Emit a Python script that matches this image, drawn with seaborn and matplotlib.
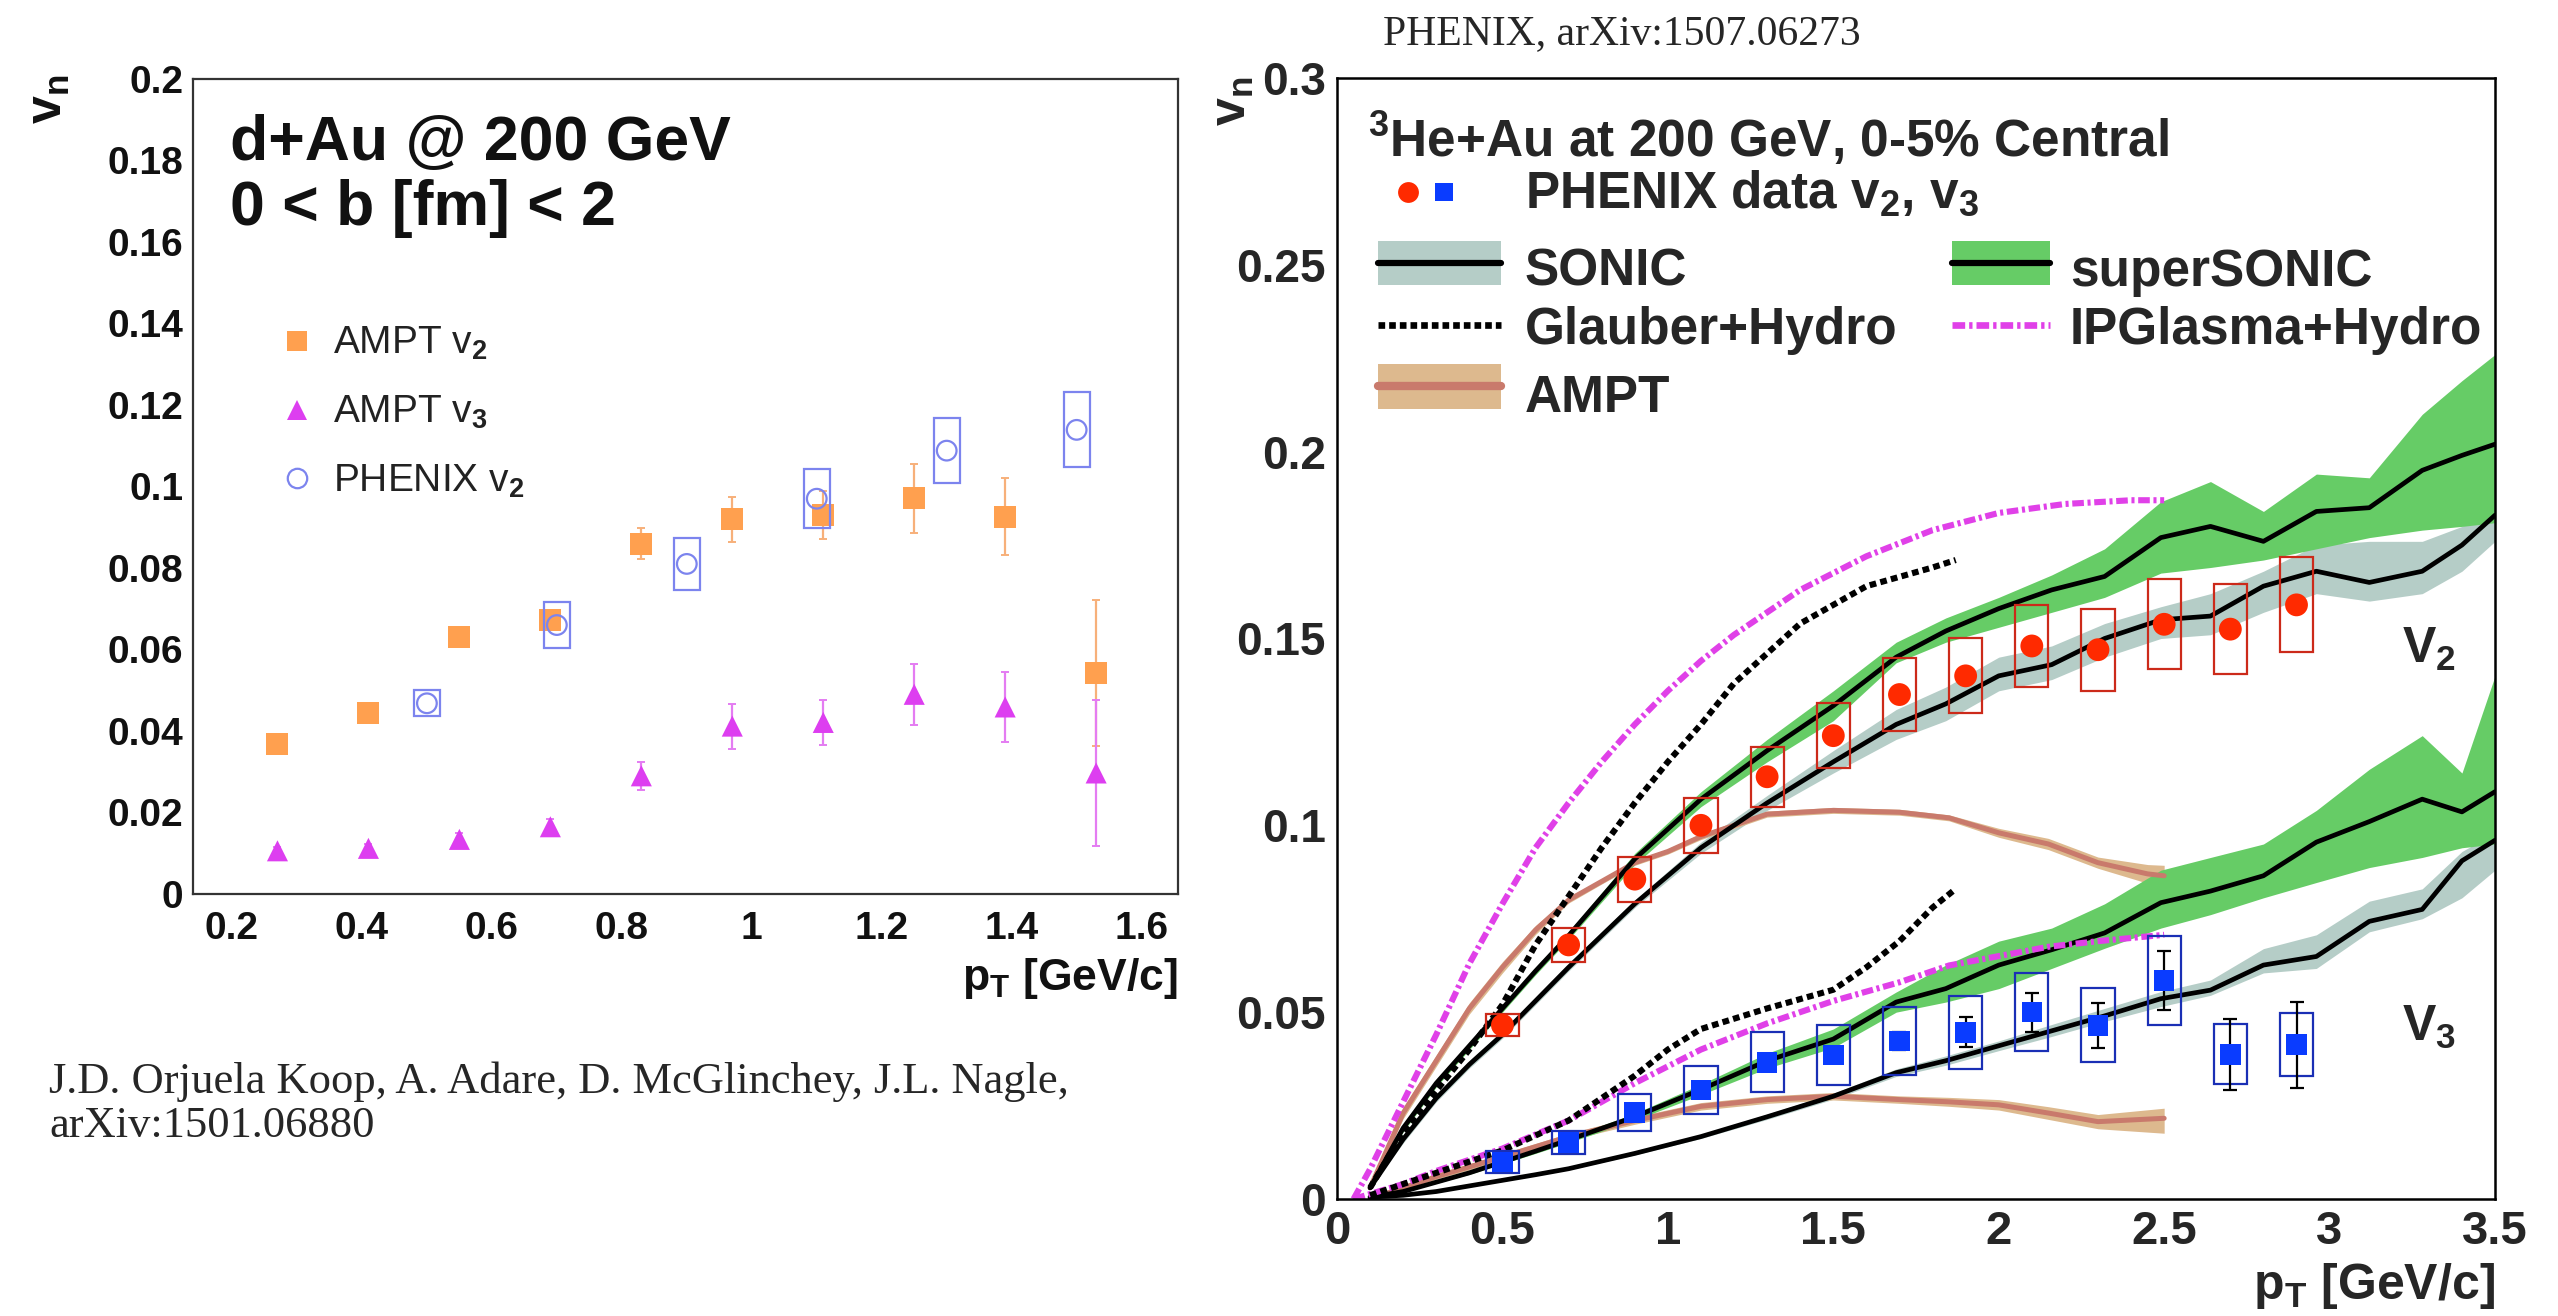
import matplotlib
matplotlib.use("Agg")
import matplotlib.pyplot as plt
from matplotlib.patches import Rectangle
from matplotlib.lines import Line2D
from matplotlib.ticker import MultipleLocator, FuncFormatter
import seaborn as sns

# ---------------- d+Au @ 200 GeV : AMPT vs PHENIX ----------------
ampt_pt = [0.27, 0.41, 0.55, 0.69, 0.83, 0.97, 1.11, 1.25, 1.39, 1.53]
ampt_v2 = [0.0367, 0.0445, 0.063, 0.0672, 0.086, 0.092, 0.093, 0.0971, 0.0926, 0.0542]
ampt_v2_err = [0.0015, 0.0015, 0.002, 0.0025, 0.0038, 0.0055, 0.0058, 0.0085, 0.0095, 0.018]
ampt_v3 = [0.0106, 0.0112, 0.0134, 0.0165, 0.029, 0.0412, 0.0421, 0.049, 0.0459, 0.0297]
ampt_v3_err = [0.001, 0.001, 0.0015, 0.002, 0.0035, 0.0055, 0.0055, 0.0075, 0.0085, 0.018]

dau_pt = [0.5, 0.7, 0.9, 1.1, 1.3, 1.5]
dau_v2 = [0.0468, 0.066, 0.081, 0.097, 0.1088, 0.1139]
dau_v2_sys = [0.0032, 0.0056, 0.0064, 0.0072, 0.008, 0.0092]

# ---------------- 3He+Au @ 200 GeV : PHENIX data ----------------
he_pt = [0.5, 0.7, 0.9, 1.1, 1.3, 1.5, 1.7, 1.9, 2.1, 2.3, 2.5, 2.7, 2.9]
he_v2 = [0.0465, 0.068, 0.0856, 0.100, 0.113, 0.124, 0.135, 0.140, 0.148, 0.147, 0.1538, 0.1525, 0.159]
he_v2_stat = [0.0006, 0.0007, 0.0008, 0.0009, 0.001, 0.0011, 0.0012, 0.0013, 0.0015, 0.0017, 0.0019, 0.0021, 0.0023]
he_v2_sys = [0.003, 0.0046, 0.006, 0.0073, 0.008, 0.0087, 0.0098, 0.010, 0.011, 0.011, 0.012, 0.012, 0.0127]
he_v3 = [0.0099, 0.0151, 0.0232, 0.0292, 0.0366, 0.0385, 0.0423, 0.0446, 0.050, 0.0465, 0.0585, 0.0387, 0.0413]
he_v3_stat = [0.001, 0.001, 0.0012, 0.0015, 0.002, 0.002, 0.0025, 0.004, 0.0052, 0.006, 0.008, 0.0095, 0.0115]
he_v3_sys = [0.003, 0.003, 0.005, 0.0065, 0.008, 0.008, 0.009, 0.0098, 0.0105, 0.0099, 0.012, 0.008, 0.0085]

# ---------------- hydro model curves (SONIC / superSONIC) ----------------
hydro_pt = [0.1, 0.2, 0.3, 0.4, 0.5, 0.6, 0.7, 0.9, 1.1, 1.3, 1.5, 1.69, 1.84, 2.0,
            2.16, 2.32, 2.49, 2.64, 2.8, 2.96, 3.12, 3.28, 3.4, 3.5]
sonic_v2 = [0.003, 0.016, 0.027, 0.036, 0.044, 0.053, 0.062, 0.079, 0.094, 0.106, 0.117, 0.127,
            0.1325, 0.140, 0.143, 0.150, 0.155, 0.156, 0.164, 0.168, 0.165, 0.168, 0.175, 0.183]
sonic_v2_lo = [0.003, 0.015, 0.026, 0.035, 0.043, 0.052, 0.061, 0.078, 0.0925, 0.104, 0.114, 0.123,
               0.128, 0.136, 0.139, 0.145, 0.150, 0.151, 0.157, 0.162, 0.160, 0.162, 0.168, 0.176]
sonic_v2_hi = [0.003, 0.017, 0.028, 0.037, 0.045, 0.054, 0.063, 0.080, 0.0955, 0.108, 0.120, 0.131,
               0.137, 0.145, 0.148, 0.154, 0.1585, 0.162, 0.168, 0.175, 0.176, 0.176, 0.180, 0.186]
super_v2 = [0.003, 0.019, 0.031, 0.041, 0.051, 0.061, 0.0705, 0.091, 0.107, 0.120, 0.132, 0.145,
            0.152, 0.158, 0.163, 0.1666, 0.177, 0.180, 0.176, 0.184, 0.185, 0.195, 0.199, 0.202]
super_v2_lo = [0.003, 0.018, 0.030, 0.040, 0.050, 0.060, 0.0695, 0.0895, 0.105, 0.117, 0.128, 0.1435,
               0.149, 0.153, 0.157, 0.161, 0.1675, 0.169, 0.171, 0.174, 0.177, 0.179, 0.180, 0.181]
super_v2_hi = [0.003, 0.020, 0.032, 0.042, 0.052, 0.062, 0.0715, 0.0925, 0.109, 0.123, 0.136, 0.149,
               0.1555, 0.161, 0.167, 0.174, 0.1866, 0.192, 0.184, 0.194, 0.193, 0.210, 0.219, 0.226]
sonic_v3 = [0.0005, 0.001, 0.002, 0.0035, 0.005, 0.0065, 0.0081, 0.0122, 0.0167, 0.022, 0.0275, 0.0338,
            0.037, 0.041, 0.045, 0.049, 0.0536, 0.0559, 0.0626, 0.0649, 0.0743, 0.0775, 0.0905, 0.096]
sonic_v3_lo = [0.0005, 0.001, 0.002, 0.0033, 0.0047, 0.0062, 0.0078, 0.0118, 0.0162, 0.0213, 0.0267, 0.0328,
               0.0358, 0.0397, 0.0435, 0.0475, 0.0515, 0.0545, 0.0605, 0.0617, 0.0715, 0.075, 0.0806, 0.088]
sonic_v3_hi = [0.0005, 0.0012, 0.0022, 0.0037, 0.0053, 0.0068, 0.0084, 0.0126, 0.0172, 0.0227, 0.0283, 0.0348,
               0.0383, 0.0423, 0.0467, 0.051, 0.0555, 0.0586, 0.067, 0.0707, 0.0797, 0.083, 0.093, 0.098]
super_v3 = [0.0005, 0.002, 0.0045, 0.007, 0.0099, 0.0128, 0.0158, 0.022, 0.0293, 0.037, 0.0428, 0.0527,
            0.0563, 0.0626, 0.0667, 0.0712, 0.0793, 0.0824, 0.0865, 0.0955, 0.101, 0.107, 0.1036, 0.109]
super_v3_lo = [0.0005, 0.0018, 0.0042, 0.0066, 0.0094, 0.0122, 0.0151, 0.0211, 0.0279, 0.035, 0.0405, 0.050,
               0.0527, 0.0563, 0.0617, 0.0671, 0.0725, 0.0761, 0.0806, 0.0847, 0.0887, 0.0914, 0.094, 0.095]
super_v3_hi = [0.0005, 0.0022, 0.0048, 0.0074, 0.0104, 0.0134, 0.0165, 0.0229, 0.0307, 0.039, 0.0455, 0.0554,
               0.0626, 0.069, 0.0725, 0.079, 0.088, 0.0914, 0.095, 0.104, 0.115, 0.124, 0.114, 0.140]

# ---------------- Glauber+Hydro ----------------
glauber_v2_pt = [0.1, 0.2, 0.3, 0.4, 0.5, 0.6, 0.7, 0.8, 0.9, 1.0, 1.1, 1.2, 1.4, 1.6, 1.8, 1.87]
glauber_v2 = [0.003, 0.018, 0.029, 0.040, 0.052, 0.068, 0.081, 0.094, 0.106, 0.117, 0.127, 0.138,
              0.154, 0.164, 0.169, 0.171]
glauber_v3_pt = [0.1, 0.2, 0.3, 0.4, 0.5, 0.6, 0.7, 0.8, 0.9, 1.0, 1.1, 1.3, 1.5, 1.6, 1.7, 1.8, 1.87]
glauber_v3 = [0.001, 0.004, 0.007, 0.010, 0.013, 0.017, 0.021, 0.027, 0.033, 0.040, 0.0455, 0.051,
              0.056, 0.062, 0.069, 0.078, 0.083]

# ---------------- IPGlasma+Hydro ----------------
ipg_v2_pt = [0.05, 0.1, 0.2, 0.3, 0.4, 0.5, 0.6, 0.7, 0.8, 0.9, 1.0, 1.1, 1.2, 1.4, 1.6, 1.8, 2.0,
             2.2, 2.4, 2.5]
ipg_v2 = [0.0, 0.008, 0.026, 0.044, 0.063, 0.079, 0.094, 0.106, 0.117, 0.127, 0.136, 0.144, 0.151,
          0.163, 0.172, 0.179, 0.1836, 0.186, 0.187, 0.187]
ipg_v3_pt = [0.05, 0.2, 0.3, 0.4, 0.5, 0.7, 0.9, 1.1, 1.3, 1.5, 1.7, 1.85, 2.0, 2.15, 2.3, 2.5]
ipg_v3 = [0.0, 0.004, 0.0075, 0.0105, 0.0135, 0.021, 0.031, 0.040, 0.047, 0.053, 0.058, 0.0625,
          0.065, 0.0675, 0.069, 0.0707]

# ---------------- AMPT (3He+Au) ----------------
amptc_v2_pt = [0.1, 0.2, 0.3, 0.4, 0.5, 0.6, 0.7, 0.8, 0.9, 1.0, 1.1, 1.2, 1.3, 1.5, 1.7, 1.85,
               2.0, 2.15, 2.3, 2.45, 2.5]
amptc_v2 = [0.003, 0.023, 0.037, 0.051, 0.062, 0.072, 0.080, 0.085, 0.090, 0.093, 0.097, 0.100,
            0.103, 0.104, 0.1035, 0.102, 0.098, 0.095, 0.090, 0.087, 0.0865]
amptc_v2_lo = [0.0025, 0.0215, 0.0355, 0.0495, 0.0605, 0.0708, 0.0792, 0.0843, 0.0893, 0.0923, 0.0962,
               0.0992, 0.1022, 0.1032, 0.1027, 0.1012, 0.0968, 0.0935, 0.0885, 0.0845, 0.0835]
amptc_v2_hi = [0.0035, 0.0245, 0.0385, 0.0525, 0.0635, 0.0732, 0.0808, 0.0857, 0.0907, 0.0937, 0.0978,
               0.1008, 0.1038, 0.1048, 0.1043, 0.1028, 0.0992, 0.0965, 0.0915, 0.0895, 0.0893]
amptc_v3_pt = [0.1, 0.2, 0.3, 0.4, 0.5, 0.7, 0.9, 1.1, 1.3, 1.5, 1.7, 1.85, 2.0, 2.15, 2.3, 2.5]
amptc_v3 = [0.0, 0.003, 0.006, 0.0086, 0.0113, 0.0167, 0.021, 0.0248, 0.0266, 0.0275, 0.0266,
            0.026, 0.0252, 0.023, 0.0207, 0.0216]
amptc_v3_lo = [0.0, 0.0025, 0.0053, 0.0078, 0.0105, 0.0158, 0.020, 0.0238, 0.0256, 0.0265, 0.0256,
               0.0248, 0.0238, 0.0213, 0.0188, 0.0176]
amptc_v3_hi = [0.0, 0.0035, 0.0067, 0.0094, 0.0121, 0.0176, 0.022, 0.0258, 0.0276, 0.0285, 0.0276,
               0.0272, 0.0266, 0.0247, 0.0226, 0.0243]

# ---------------- style ----------------
sns.set_style("white")
plt.rcParams["font.family"] = ["Liberation Sans", "DejaVu Sans"]
plt.rcParams["font.weight"] = "bold"
plt.rcParams["mathtext.fontset"] = "custom"
plt.rcParams["mathtext.rm"] = "Liberation Sans"
plt.rcParams["mathtext.it"] = "Liberation Sans:italic"
plt.rcParams["mathtext.bf"] = "Liberation Sans:bold"

C_ORANGE = "#ffa04f"
C_ORANGE_E = "#f7b07a"
C_MAG = "#dd3ef0"
C_MAG_E = "#e47cf2"
C_PERI = "#7c84ee"
C_RED = "#ff2a00"
C_RED_BOX = "#cc2a1a"
C_BLUE = "#0a3cff"
C_BLUE_BOX = "#1a2fb5"
C_SONIC = "#b5cdc7"
C_SUPER = "#66cc66"
C_AMPT_L = "#c97a6c"
C_AMPT_B = "#ddb98e"
C_IPG = "#e040e8"

DOTTED = (0, (1.1, 0.7))
DASHDOT = (0, (1.9, 0.6, 0.5, 0.6))

fig = plt.figure(figsize=(25.58, 13.16), dpi=100)
ax1 = fig.add_axes([0.07545, 0.32067, 0.38507, 0.61930])
ax2 = fig.add_axes([0.52268, 0.08891, 0.45270, 0.85182])

fmt = FuncFormatter(lambda v, p: "%g" % round(v, 4))


def sys_boxes(ax, x, y, sys, half_w, color, lw, z):
    for xi, yi, si in zip(x, y, sys):
        ax.add_patch(Rectangle((xi - half_w, yi - si), 2 * half_w, 2 * si, fill=False,
                               edgecolor=color, lw=lw, zorder=z))


def curve(ax, x, y, color, lw, z, ls="-"):
    sns.lineplot(x=x, y=y, ax=ax, color=color, linewidth=lw, linestyle=ls, estimator=None,
                 sort=False, legend=False, zorder=z, dash_capstyle="butt", solid_capstyle="round")


# ================= left panel =================
ax = ax1
ax.set_xlim(0.14, 1.656)
ax.set_ylim(0, 0.2)
ax.errorbar(ampt_pt, ampt_v2, yerr=ampt_v2_err, fmt="none", ecolor=C_ORANGE_E, elinewidth=1.6,
            capsize=3, capthick=1.4, zorder=3)
ax.errorbar(ampt_pt, ampt_v3, yerr=ampt_v3_err, fmt="none", ecolor=C_MAG_E, elinewidth=1.6,
            capsize=3, capthick=1.4, zorder=3)
sns.scatterplot(x=ampt_pt, y=ampt_v2, ax=ax, marker="s", s=250, color=C_ORANGE, edgecolor="none",
                legend=False, zorder=4)
sns.scatterplot(x=ampt_pt, y=ampt_v3, ax=ax, marker="^", s=230, color=C_MAG, edgecolor="none",
                legend=False, zorder=4)
sys_boxes(ax, dau_pt, dau_v2, dau_v2_sys, 0.02, C_PERI, 1.6, 5)
sns.scatterplot(x=dau_pt, y=dau_v2, ax=ax, marker="o", s=200, color=C_PERI, legend=False, zorder=6)
ax.collections[-1].set_facecolor("none")
ax.collections[-1].set_edgecolor(C_PERI)
ax.collections[-1].set_linewidth(1.6)

ax.xaxis.set_major_locator(MultipleLocator(0.2))
ax.xaxis.set_minor_locator(MultipleLocator(0.05))
ax.yaxis.set_major_locator(MultipleLocator(0.02))
ax.yaxis.set_minor_locator(MultipleLocator(0.005))
ax.xaxis.set_major_formatter(fmt)
ax.yaxis.set_major_formatter(fmt)
ax.tick_params(axis="both", which="both", direction="in", color="#333333", width=1.4,
               top=False, right=False, labelsize=28, labelcolor="#111111")
ax.tick_params(axis="y", which="major", length=21, pad=7)
ax.tick_params(axis="y", which="minor", length=11)
ax.tick_params(axis="x", which="major", length=17, pad=12)
ax.tick_params(axis="x", which="minor", length=8)
for s in ax.spines.values():
    s.set_linewidth(1.6)
    s.set_color("#333333")

ax.text(0.0376, 0.901, "d+Au @ 200 GeV", transform=ax.transAxes, fontsize=45, va="baseline",
        color="#111111")
ax.text(0.0376, 0.8203, "0 < b [fm] < 2", transform=ax.transAxes, fontsize=45, va="baseline",
        color="#111111")
ax.text(-0.146, 0.975, r"v$_{\mathbf{n}}$", transform=ax.transAxes, fontsize=36, rotation=90,
        ha="center", va="center", color="#111111")
ax.text(1.0, -0.104, r"p$_{\mathbf{T}}$ [GeV/c]", transform=ax.transAxes, fontsize=32,
        ha="right", va="center", color="#111111")

# legend keys of the left panel
leg_rows = [(0.678, 0.6624, "s", C_ORANGE, "AMPT v$_{2}$", 15),
            (0.594, 0.578, "^", C_MAG, "AMPT v$_{3}$", 15),
            (0.511, 0.494, "o", C_PERI, "PHENIX v$_{2}$", 14)]
for ym, yt, mk, col, lab, ms in leg_rows:
    face = "none" if mk == "o" else col
    ax.add_line(Line2D([0.106], [ym], transform=ax.transAxes, marker=mk, markersize=ms,
                       markerfacecolor=face, markeredgecolor=col,
                       markeredgewidth=1.6 if mk == "o" else 0, linestyle="none"))
    ax.text(0.142, yt, lab, transform=ax.transAxes, fontsize=28, fontweight="normal",
            va="baseline", color="#222222")

# ================= right panel =================
ax = ax2
ax.set_xlim(0, 3.5)
ax.set_ylim(0, 0.3)

# bands
ax.fill_between(hydro_pt, sonic_v2_lo, sonic_v2_hi, color=C_SONIC, lw=0, zorder=1)
ax.fill_between(hydro_pt, sonic_v3_lo, sonic_v3_hi, color=C_SONIC, lw=0, zorder=1)
ax.fill_between(hydro_pt, super_v2_lo, super_v2_hi, color=C_SUPER, lw=0, zorder=1.2)
ax.fill_between(hydro_pt, super_v3_lo, super_v3_hi, color=C_SUPER, lw=0, zorder=1.2)
ax.fill_between(amptc_v2_pt, amptc_v2_lo, amptc_v2_hi, color=C_AMPT_B, lw=0, zorder=1.1)
ax.fill_between(amptc_v3_pt, amptc_v3_lo, amptc_v3_hi, color=C_AMPT_B, lw=0, zorder=1.1)

# model curves
curve(ax, amptc_v2_pt, amptc_v2, C_AMPT_L, 3.6, 1.5)
curve(ax, amptc_v3_pt, amptc_v3, C_AMPT_L, 3.6, 1.5)
curve(ax, hydro_pt, sonic_v2, "black", 3.4, 2)
curve(ax, hydro_pt, super_v2, "black", 3.4, 2)
curve(ax, hydro_pt, sonic_v3, "black", 3.4, 2)
curve(ax, hydro_pt, super_v3, "black", 3.4, 2)
curve(ax, glauber_v2_pt, glauber_v2, "black", 4.4, 2.2, ls=DOTTED)
curve(ax, glauber_v3_pt, glauber_v3, "black", 4.4, 2.2, ls=DOTTED)
curve(ax, ipg_v2_pt, ipg_v2, C_IPG, 4.4, 2.1, ls=DASHDOT)
curve(ax, ipg_v3_pt, ipg_v3, C_IPG, 4.4, 2.1, ls=DASHDOT)

# data
sys_boxes(ax, he_pt, he_v2, he_v2_sys, 0.05, C_RED_BOX, 1.6, 4)
sys_boxes(ax, he_pt, he_v3, he_v3_sys, 0.05, C_BLUE_BOX, 1.6, 4)
ax.errorbar(he_pt, he_v2, yerr=he_v2_stat, fmt="none", ecolor="black", elinewidth=1.6,
            capsize=0, zorder=4.5)
ax.errorbar(he_pt, he_v3, yerr=he_v3_stat, fmt="none", ecolor="black", elinewidth=1.6,
            capsize=5, capthick=1.6, zorder=4.5)
sns.scatterplot(x=he_pt, y=he_v2, ax=ax, marker="o", s=270, color=C_RED, edgecolor="none",
                legend=False, zorder=5)
sns.scatterplot(x=he_pt, y=he_v3, ax=ax, marker="s", s=220, color=C_BLUE, edgecolor="none",
                legend=False, zorder=5)

ax.text(3.3, 0.147, r"V$_{\mathbf{2}}$", fontsize=36, ha="center", va="center")
ax.text(3.3, 0.046, r"V$_{\mathbf{3}}$", fontsize=36, ha="center", va="center")

ax.xaxis.set_major_locator(MultipleLocator(0.5))
ax.xaxis.set_minor_locator(MultipleLocator(0.1))
ax.yaxis.set_major_locator(MultipleLocator(0.05))
ax.yaxis.set_minor_locator(MultipleLocator(0.01))
ax.xaxis.set_major_formatter(fmt)
ax.yaxis.set_major_formatter(fmt)
ax.tick_params(axis="both", which="both", direction="in", color="black", width=1.8,
               top=False, right=False, labelsize=34)
ax.tick_params(axis="y", which="major", length=27, pad=8, labelsize=33)
ax.tick_params(axis="y", which="minor", length=15)
ax.tick_params(axis="x", which="major", length=23, pad=8)
ax.tick_params(axis="x", which="minor", length=11)
for s in ax.spines.values():
    s.set_linewidth(1.8)
    s.set_color("black")

ax.text(-0.09, 0.979, r"v$_{\mathbf{n}}$", transform=ax.transAxes, fontsize=36, rotation=90,
        ha="center", va="center")
ax.text(1.0, -0.078, r"p$_{\mathbf{T}}$ [GeV/c]", transform=ax.transAxes, fontsize=36,
        ha="right", va="center")

# legend block of the right panel
T = ax.transAxes
LEG_FS = 37
ax.text(0.027, 0.930, r"$^{\mathbf{3}}$He+Au at 200 GeV, 0-5% Central", transform=T, fontsize=LEG_FS,
        va="baseline")
ax.add_line(Line2D([0.061], [0.8986], transform=T, marker="o", markersize=15, color=C_RED,
                   markeredgewidth=0, linestyle="none"))
ax.add_line(Line2D([0.092], [0.8986], transform=T, marker="s", markersize=13, color=C_BLUE,
                   markeredgewidth=0, linestyle="none"))
ax.text(0.1623, 0.884, r"PHENIX data v$_{\mathbf{2}}$, v$_{\mathbf{3}}$", transform=T, fontsize=LEG_FS,
        va="baseline")


def band_key(x0, x1, yc, h, band_color, line_color, lw):
    ax.add_patch(Rectangle((x0, yc - h / 2), x1 - x0, h, transform=T, color=band_color, lw=0))
    ax.add_line(Line2D([x0, x1], [yc, yc], transform=T, color=line_color, lw=lw))


band_key(0.0354, 0.1416, 0.835, 0.039, C_SONIC, "black", 4.5)
ax.text(0.1623, 0.8145, "SONIC", transform=T, fontsize=LEG_FS, va="baseline")
band_key(0.531, 0.6157, 0.835, 0.039, C_SUPER, "black", 4.5)
ax.text(0.633, 0.8145, "superSONIC", transform=T, fontsize=LEG_FS, va="baseline")
ax.add_line(Line2D([0.0354, 0.1416], [0.780, 0.780], transform=T, color="black", lw=4.8,
                   linestyle=(0, (1.0, 0.6)), dash_capstyle="butt"))
ax.text(0.1623, 0.7627, "Glauber+Hydro", transform=T, fontsize=LEG_FS, va="baseline")
ax.add_line(Line2D([0.531, 0.6157], [0.780, 0.780], transform=T, color=C_IPG, lw=4.8,
                   linestyle=DASHDOT, dash_capstyle="butt"))
ax.text(0.633, 0.7627, "IPGlasma+Hydro", transform=T, fontsize=LEG_FS, va="baseline")
band_key(0.0354, 0.1416, 0.725, 0.040, C_AMPT_B, C_AMPT_L, 6.0)
ax.text(0.1623, 0.702, "AMPT", transform=T, fontsize=LEG_FS, va="baseline")

# references
SERIF = ["Liberation Serif", "DejaVu Serif"]
fig.text(0.0192, 0.1778, "J.D. Orjuela Koop, A. Adare, D. McGlinchey, J.L. Nagle,",
         family=SERIF, fontweight="normal", fontsize=32, va="center")
fig.text(0.0192, 0.1444, "arXiv:1501.06880", family=SERIF, fontweight="normal", fontsize=32,
         va="center")
fig.text(0.5407, 0.974, "PHENIX, arXiv:1507.06273", family=SERIF, fontweight="normal",
         fontsize=30, va="center")

fig.savefig("out.png", dpi=100)
